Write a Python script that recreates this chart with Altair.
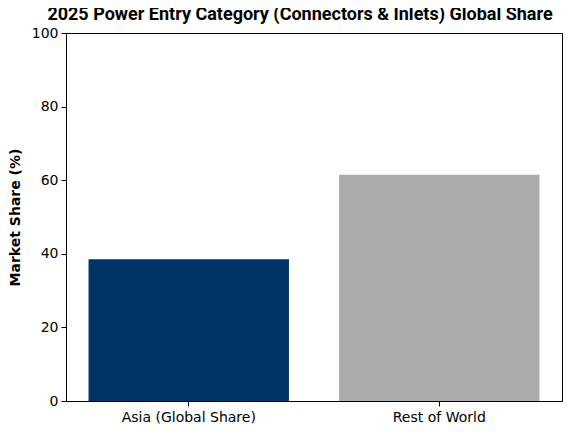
"""Power entry category global share bar chart."""

import pandas as pd
import altair as alt

regions = ["Asia (Global Share)", "Rest of World"]
shares = [38.5, 61.5]
bar_colors = ["#003366", "#ABACAE"]
y_ticks = [0, 20, 40, 60, 80, 100]

df = pd.DataFrame({"region": regions, "share": shares})

bars = (
    alt.Chart(df)
    .mark_bar()
    .encode(
        x=alt.X(
            "region:N",
            sort=regions,
            title=None,
            scale=alt.Scale(paddingInner=0.2, paddingOuter=0.09),
            axis=alt.Axis(labelAngle=0, labelPadding=4),
        ),
        y=alt.Y(
            "share:Q",
            title="Market Share (%)",
            scale=alt.Scale(domain=[0, 100], nice=False),
            axis=alt.Axis(values=y_ticks, titlePadding=9),
        ),
        color=alt.Color("region:N", scale=alt.Scale(domain=regions, range=bar_colors), legend=None),
    )
)

chart = (
    bars.properties(
        width=496,
        height=368,
        title=alt.TitleParams(
            "2025 Power Entry Category (Connectors & Inlets) Global Share",
            font="Roboto",
            fontSize=18,
            fontWeight="bold",
            color="black",
            anchor="middle",
            dx=-14,
            offset=2,
        ),
        autosize=alt.AutoSizeParams(type="none"),
        padding={"left": 58, "top": 25, "right": 1, "bottom": 24},
    )
    .configure_view(stroke="black", strokeWidth=1)
    .configure_axis(
        grid=False,
        domainColor="black",
        tickColor="black",
        tickSize=5,
        labelFont="DejaVu Sans",
        labelFontSize=14,
        labelColor="black",
        titleFont="DejaVu Sans",
        titleFontSize=14,
        titleFontWeight="bold",
        titleColor="black",
    )
    .configure_axisY(labelPadding=3)
)

chart.save("out.html", embed_options={"renderer": "svg", "actions": False})
